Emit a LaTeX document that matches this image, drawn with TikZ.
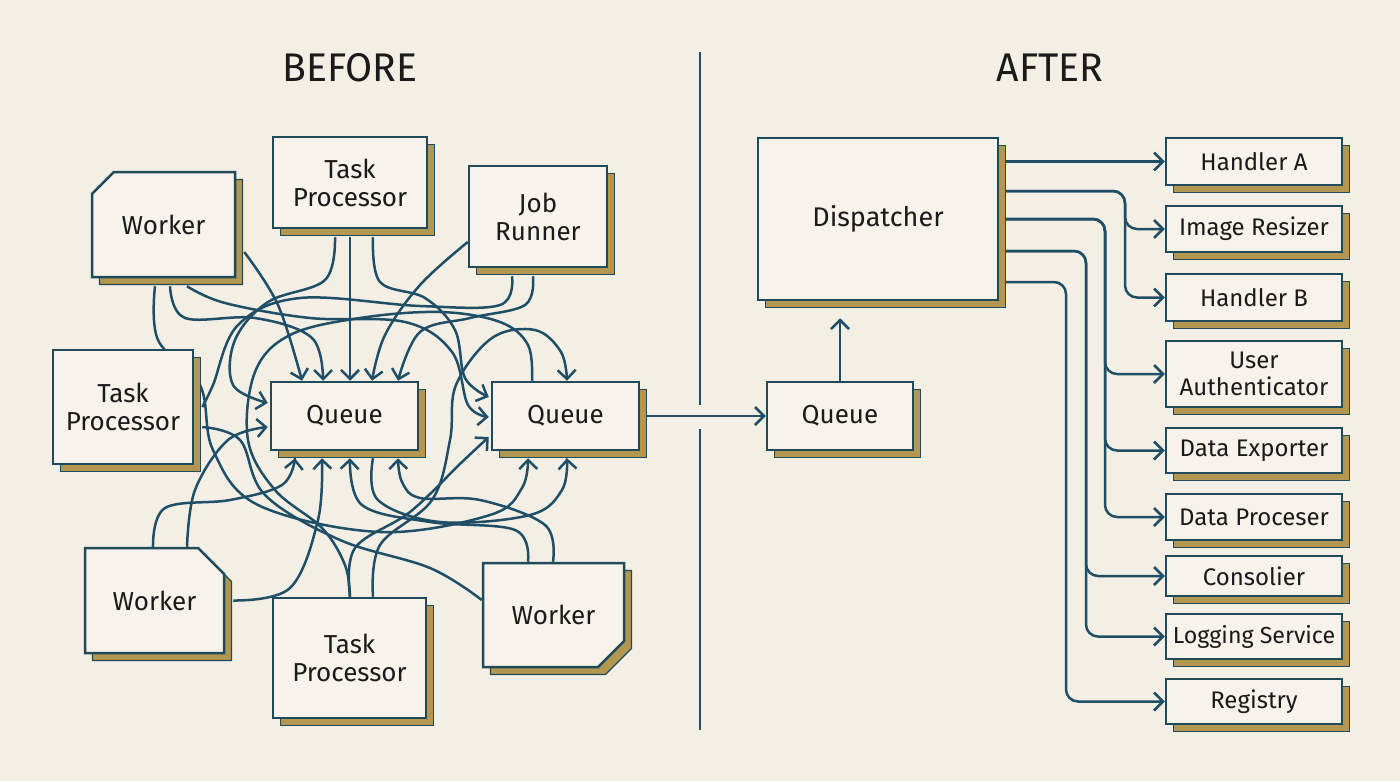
\documentclass[tikz,border=0pt]{standalone}
\usepackage{fontspec}
\usepackage{graphicx}
\setmainfont{Fira Sans}
\usetikzlibrary{arrows.meta,shapes.misc,shadows,calc}
\definecolor{bg}{HTML}{F4EFE5}
\definecolor{boxfill}{HTML}{F7F3EA}
\definecolor{edge}{HTML}{1E4A5A}
\definecolor{wirec}{HTML}{1F4F66}
\definecolor{gold}{HTML}{B39650}
\definecolor{ink}{HTML}{1A1A1A}
\pgfdeclarelayer{bgl}
\pgfdeclarelayer{wires}
\pgfsetlayers{bgl,wires,main}
\tikzset{
  box/.style={draw=edge, line width=1.25pt, fill=boxfill, text=ink,
    font=\fontsize{13}{14}\selectfont, align=center, inner sep=0pt,
    general shadow={shadow xshift=3.7pt, shadow yshift=-3.7pt, fill=gold, draw=edge, line width=0.6pt}},
  hbox/.style={box, font=\fontsize{12}{13.5}\selectfont},
  wh/.style 2 args={minimum width=#1*0.5pt, minimum height=#2*0.5pt},
  cut/.style={chamfered rectangle, chamfered rectangle corners=#1,
    chamfered rectangle xsep=8pt, chamfered rectangle ysep=8pt},
  wire/.style={draw=wirec, line width=1.25pt},
  arr/.style={wire, -{Straight Barb[length=4.5pt,width=9pt,line width=1.25pt]}},
  tangle/.style={arr, smooth, tension=0.6},
  plain/.style={wire},
  head/.style={text=ink, font=\fontsize{20}{21}\selectfont},
}
\begin{document}
\begin{tikzpicture}[x=0.5pt,y=-0.5pt]
\begin{pgfonlayer}{bgl}
\fill[bg] (0,0) rectangle (1400,781);
\end{pgfonlayer}
\useasboundingbox (0,0) rectangle (1400,781);

% headings
\node[head] (hbefore) at (350,68) {\scalebox{0.98}[1]{BEFORE}};
\node[head] (hafter) at (1050,68) {\scalebox{0.98}[1]{AFTER}};

% divider
\coordinate (dv1) at (700,52);
\coordinate (dv2) at (700,405);
\coordinate (dv3) at (700,429);
\coordinate (dv4) at (700,730);
\draw[wire] (dv1) -- (dv2);
\draw[wire] (dv3) -- (dv4);

% BEFORE boxes
\node[box, cut=north west, chamfered rectangle xsep=6pt, chamfered rectangle ysep=6pt, wh={143}{105}] (w1) at (163.5,224.5) {Worker};
\node[box, wh={154}{91}] (tpt) at (350,182.5) {Task\\Processor};
\node[box, wh={138}{101}] (jr) at (538,216.5) {Job\\Runner};
\node[box, wh={140}{114}] (tpl) at (123,407) {Task\\Processor};
\node[box, wh={147}{68}] (q1) at (344.5,416) {Queue};
\node[box, wh={147}{68}] (q2) at (565.5,416) {Queue};
\node[box, cut=north east, wh={139}{105}] (wbl) at (154.5,600.5) {Worker};
\node[box, wh={153}{120}] (tpb) at (349.5,658) {Task\\Processor};
\node[box, cut=south east, wh={141}{104}] (wbr) at (553.5,615) {Worker};

% ports
\coordinate (w1R) at ($(w1.east)+(8,27.5)$);
\coordinate (w1B1) at ($(w1.south)+(-8.5,8)$);
\coordinate (w1B2) at ($(w1.south)+(6.5,8)$);
\coordinate (w1B3) at ($(w1.south)+(23.5,8)$);
\coordinate (tptB1) at ($(tpt.south)+(-15,8)$);
\coordinate (tptB2) at ($(tpt.south)+(0,8)$);
\coordinate (tptB3) at ($(tpt.south)+(23,8)$);
\coordinate (jrL) at ($(jr.west)+(0,25.5)$);
\coordinate (jrB1) at ($(jr.south)+(-26,8)$);
\coordinate (jrB2) at ($(jr.south)+(-5,8)$);
\coordinate (tplR1) at ($(tpl.east)+(8,0)$);
\coordinate (tplR2) at ($(tpl.east)+(8,20)$);
\coordinate (wblT1) at ($(wbl.north)+(-1.5,0)$);
\coordinate (wblT2) at ($(wbl.north)+(32.5,0)$);
\coordinate (wblR) at ($(wbl.east)+(8,0)$);
\coordinate (tpbT1) at ($(tpb.north)+(0.5,0)$);
\coordinate (tpbT2) at ($(tpb.north)+(23.5,0)$);
\coordinate (wbrT1) at ($(wbr.north)+(-25.5,0)$);
\coordinate (wbrT2) at ($(wbr.north)+(-0.5,0)$);
\coordinate (wbrL) at ($(wbr.west)+(0,-15)$);
\coordinate (Q1T1) at ($(q1.north)+(-42.5,0)$);
\coordinate (Q1T2) at ($(q1.north)+(-21.5,0)$);
\coordinate (Q1T3) at ($(q1.north)+(5.5,0)$);
\coordinate (Q1T4) at ($(q1.north)+(27.5,0)$);
\coordinate (Q1T5) at ($(q1.north)+(53.5,0)$);
\coordinate (Q1L1) at ($(q1.west)+(-2,-13)$);
\coordinate (Q1L2) at ($(q1.west)+(-2,11)$);
\coordinate (Q1B1) at ($(q1.south)+(-49.5,7)$);
\coordinate (Q1B2) at ($(q1.south)+(-22.5,7)$);
\coordinate (Q1B3) at ($(q1.south)+(5.5,7)$);
\coordinate (Q1B4) at ($(q1.south)+(53.5,7)$);
\coordinate (q1Bout) at ($(q1.south)+(28.5,7)$);
\coordinate (Q2T) at ($(q2.north)+(1.5,0)$);
\coordinate (q2Tout) at ($(q2.north)+(-33.5,0)$);
\coordinate (Q2L1) at ($(q2.west)+(-2,-19)$);
\coordinate (Q2L2) at ($(q2.west)+(-2,1)$);
\coordinate (Q2L3) at ($(q2.west)+(-2,21)$);
\coordinate (Q2B1) at ($(q2.south)+(-37.5,7)$);
\coordinate (Q2B2) at ($(q2.south)+(1.5,7)$);

\begin{pgfonlayer}{wires}
\draw[tangle] plot coordinates {(w1R) (278,305) (Q1T1)};
\draw[tangle] plot coordinates {(w1B1) (158,340) (200,385) (213,450) (258,505) (380,532) (490,515) (522,488) (Q2B1)};
\draw[tangle] plot coordinates {(w1B2) (185,318) (255,318) (312,338) (Q1T2)};
\draw[tangle] plot coordinates {(w1B3) (225,303) (310,318) (405,322) (452,352) (468,405) (Q2L2)};
\draw[tangle] plot coordinates {(tptB1) (325,280) (268,302) (235,340) (233,385) (Q1L1)};
\draw[arr] (tptB2) -- (Q1T3);
\draw[tangle] plot coordinates {(tptB3) (380,282) (425,298) (455,330) (465,378) (Q2L1)};
\draw[tangle] plot coordinates {(jrL) (420,285) (385,335) (Q1T4)};
\draw[plain] plot[smooth, tension=0.6] coordinates {(jrB1) (500,305) (420,306) (300,298) (238,325) (213,385) (tplR1)};
\draw[tangle] plot coordinates {(jrB2) (525,305) (470,318) (420,332) (Q1T5)};
\draw[plain] plot[smooth, tension=0.6] coordinates {(q2Tout) (528,345) (500,322) (440,312) (360,318) (290,335) (255,372) (248,440) (275,490) (322,528) (345,565) (tpbT1)};
\draw[plain] plot[smooth, tension=0.6] coordinates {(tplR2) (240,440) (265,495) (340,540) (430,568) (wbrL)};
\draw[tangle] plot coordinates {(wblT1) (165,508) (230,500) (282,485) (Q1B1)};
\draw[tangle] plot coordinates {(wblT2) (195,490) (228,440) (Q1L2)};
\draw[tangle] plot coordinates {(wblR) (290,588) (318,520) (Q1B2)};
\draw[tangle] plot coordinates {(tpbT1) (355,548) (410,512) (462,462) (Q2L3)};
\draw[tangle] plot coordinates {(tpbT2) (380,545) (432,500) (450,440) (456,385) (492,338) (535,330) (561,352) (Q2T)};
\draw[tangle] plot coordinates {(wbrT1) (515,530) (430,522) (362,505) (Q1B3)};
\draw[tangle] plot coordinates {(wbrT2) (545,525) (480,500) (420,498) (402,482) (Q1B4)};
\draw[tangle] plot coordinates {(q1Bout) (378,500) (440,522) (530,515) (562,490) (Q2B2)};
\end{pgfonlayer}

% AFTER boxes
\node[box, wh={240}{162}] (disp) at (878,219) {\fontsize{13.5}{14}\selectfont Dispatcher};
\node[box, wh={146}{68}] (q3) at (840,416) {Queue};
\node[hbox, wh={176}{47}] (ha) at (1254,161.5) {Handler A};
\node[hbox, wh={176}{46}] (ir) at (1254,229) {Image Resizer};
\node[hbox, wh={176}{47}] (hb) at (1254,297.5) {Handler B};
\node[hbox, wh={176}{66}] (ua) at (1254,374) {User\\Authenticator};
\node[hbox, wh={176}{45}] (de) at (1254,450.5) {Data Exporter};
\node[hbox, wh={176}{46}] (dp) at (1254,517) {Data Proceser};
\node[hbox, wh={176}{40}] (co) at (1254,576) {Consolier};
\node[hbox, wh={176}{45}, font=\fontsize{11.6}{13}\selectfont] (ls) at (1254,636.5) {Logging Service};
\node[hbox, wh={176}{45}] (rg) at (1254,701.5) {Registry};

\coordinate (k1) at (1125,191);
\coordinate (k2) at (1105,219);
\coordinate (k3) at (1086,251);
\coordinate (k4) at (1066,282);

\begin{pgfonlayer}{wires}
\draw[arr] ($(q2.east)+(7,0)$) -- (q3.west);
\draw[arr] (q3.north) -- ($(q3.north |- disp.south)+(0,17)$);
\draw[arr] (disp.east |- ha.west) -- (ha.west);
\draw[arr, rounded corners=6pt] (disp.east |- k1) -- (k1) |- (ir.west);
\draw[arr, rounded corners=6pt] (disp.east |- k1) -- (k1) |- (hb.west);
\draw[arr, rounded corners=6pt] (disp.east |- k2) -- (k2) |- (ua.west);
\draw[arr, rounded corners=6pt] (disp.east |- k2) -- (k2) |- (de.west);
\draw[arr, rounded corners=6pt] (disp.east |- k2) -- (k2) |- (dp.west);
\draw[arr, rounded corners=6pt] (disp.east |- k3) -- (k3) |- (co.west);
\draw[arr, rounded corners=6pt] (disp.east |- k3) -- (k3) |- (ls.west);
\draw[arr, rounded corners=6pt] (disp.east |- k4) -- (k4) |- (rg.west);
\end{pgfonlayer}
\end{tikzpicture}
\end{document}
